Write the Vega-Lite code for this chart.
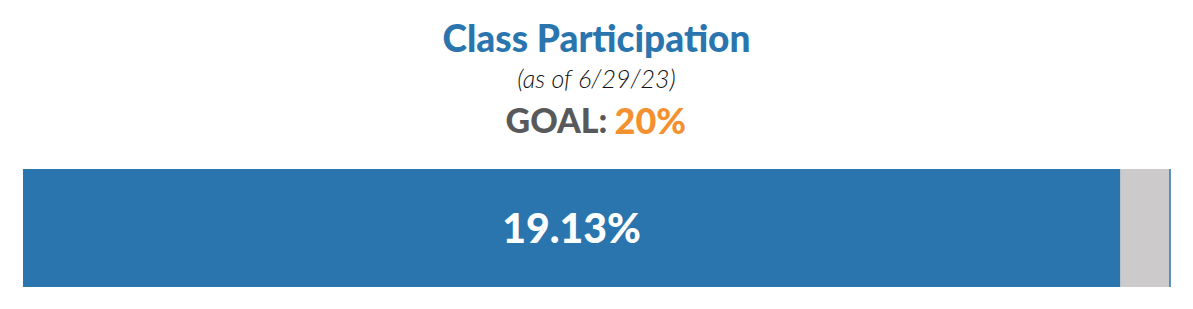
{
  "$schema": "https://vega.github.io/schema/vega-lite/v6.json",
  "autosize": {"type": "none"},
  "width": 1147,
  "height": 118,
  "padding": {"left": 23, "top": 169, "right": 23, "bottom": 22},
  "background": "white",
  "config": {"view": {"stroke": null}},
  "title": {
    "text": "Class Participation",
    "subtitle": "(as of 6/29/23)",
    "anchor": "middle",
    "color": "#2A75AE",
    "font": "Lato",
    "fontSize": 37,
    "fontWeight": 900,
    "subtitleFont": "Lato",
    "subtitleFontSize": 25,
    "subtitleFontStyle": "italic",
    "subtitleFontWeight": 300,
    "subtitleColor": "#111111",
    "subtitlePadding": 8,
    "offset": 11
  },
  "data": {"values": [{"category": "Participation", "value": 0.1913, "goal": 0.20}]},
  "encoding": {},
  "layer": [
    {
      "mark": {"type": "bar", "color": "#CCCACB"},
      "encoding": {
        "x": {"field": "goal", "type": "quantitative", "scale": {"domain": [0, 0.2], "nice": false, "zero": true}, "axis": null},
        "x2": {"datum": 0},
        "y": {"datum": 0, "type": "quantitative", "scale": {"domain": [0, 1], "nice": false}, "axis": null},
        "y2": {"datum": 1}
      }
    },
    {
      "mark": {"type": "bar", "color": "#2A75AE"},
      "encoding": {
        "x": {"field": "value", "type": "quantitative", "axis": null},
        "x2": {"datum": 0},
        "y": {"datum": 0, "type": "quantitative", "axis": null},
        "y2": {"datum": 1}
      }
    },
    {
      "mark": {"type": "rule", "color": "#2A75AE", "strokeWidth": 1.5},
      "encoding": {
        "x": {"field": "goal", "type": "quantitative", "axis": null},
        "y": {"datum": 0, "type": "quantitative", "axis": null},
        "y2": {"datum": 1}
      }
    },
    {
      "mark": {"type": "text", "color": "white", "font": "Lato", "fontSize": 41, "fontWeight": 900, "align": "center", "baseline": "middle", "dy": 3},
      "encoding": {
        "x": {"datum": 0.09565, "type": "quantitative"},
        "y": {"datum": 0.5, "type": "quantitative", "axis": null},
        "text": {"field": "value", "type": "quantitative", "format": ".2%"}
      }
    },
    {
      "mark": {"type": "text", "color": "#58595B", "font": "Lato", "fontSize": 34, "fontWeight": 900, "align": "right", "baseline": "middle", "dx": 11, "dy": -105},
      "encoding": {
        "x": {"datum": 0.1, "type": "quantitative"},
        "y": {"datum": 0.5, "type": "quantitative", "axis": null},
        "text": {"value": "GOAL:"}
      }
    },
    {
      "mark": {"type": "text", "color": "#F39130", "font": "Lato", "fontSize": 36, "fontWeight": 900, "align": "left", "baseline": "middle", "dx": 18, "dy": -105},
      "encoding": {
        "x": {"datum": 0.1, "type": "quantitative"},
        "y": {"datum": 0.5, "type": "quantitative", "axis": null},
        "text": {"field": "goal", "type": "quantitative", "format": ".0%"}
      }
    }
  ]
}
